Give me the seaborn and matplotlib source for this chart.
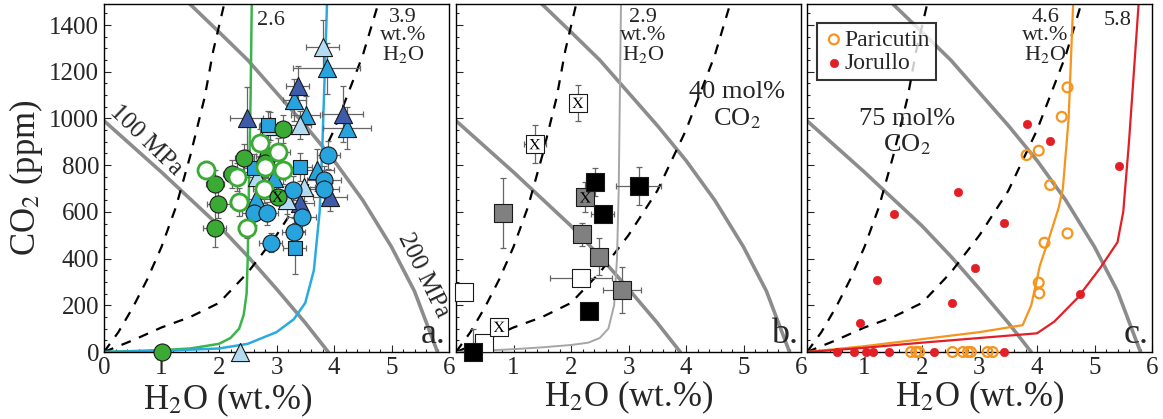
import numpy as np
import matplotlib.pyplot as plt
import seaborn as sns

sns.set_style("ticks")
plt.rcParams['font.family'] = 'serif'
plt.rcParams['font.serif'] = ['Liberation Serif', 'Tinos', 'Times New Roman',
                              'DejaVu Serif']
plt.rcParams['mathtext.fontset'] = 'stix'

# --- model curves (H2O wt.%, CO2 ppm) ---
iso100_x = [0, 0.5, 1, 1.5, 2, 2.5, 3, 3.5, 3.9]
iso100_y = [990, 880, 770, 655, 540, 410, 270, 125, 0]
iso200_x = [1.45, 2, 2.5, 3, 3.5, 4, 4.5, 5, 5.4, 5.8]
iso200_y = [1500, 1370, 1250, 1110, 970, 820, 650, 450, 260, 0]
pleth75_x = [0, 0.25, 0.5, 0.75, 1, 1.25, 1.5, 1.75, 1.9, 2.1]
pleth75_y = [0, 85, 190, 310, 450, 620, 840, 1090, 1290, 1500]
pleth40_x = [0, 0.5, 1, 1.5, 2, 2.5, 3, 3.5, 4, 4.5, 4.78]
pleth40_y = [0, 50, 105, 150, 210, 340, 500, 690, 950, 1270, 1500]

path_green_x = [0, 1, 1.5, 2, 2.2, 2.35, 2.43, 2.48, 2.5, 2.52, 2.55, 2.57]
path_green_y = [0, 8, 15, 35, 60, 100, 160, 250, 400, 700, 1100, 1500]
path_blue_x = [0, 1, 2, 2.5, 3, 3.3, 3.5, 3.65, 3.75, 3.8, 3.88]
path_blue_y = [0, 5, 15, 35, 85, 140, 210, 350, 600, 900, 1500]
path_gray_x = [0, 1, 1.5, 2, 2.3, 2.5, 2.65, 2.75, 2.8, 2.83, 2.87]
path_gray_y = [0, 12, 20, 30, 40, 60, 100, 200, 400, 700, 1500]
path_orange_x = [0, 1, 2, 3, 3.75, 3.9, 4.05, 4.2, 4.38, 4.45, 4.55, 4.63]
path_orange_y = [0, 25, 55, 85, 115, 200, 370, 480, 620, 700, 1000, 1500]
path_red_x = [0, 1, 2, 3, 4, 4.3, 4.7, 5.1, 5.4, 5.5, 5.6, 5.77]
path_red_y = [0, 18, 40, 60, 80, 130, 230, 360, 470, 600, 900, 1500]

# --- panel a data ---
a_green_x = [3.11, 2.43, 2.85, 2.80, 2.22, 1.93, 1.99, 1.93, 1.00]
a_green_y = [953, 832, 841, 810, 761, 719, 634, 530, 0]
a_green_xe = [0.15, 0.15, 0.2, 0.15, 0.15, 0.15, 0.2, 0.2, 0]
a_green_ye = [60, 60, 60, 60, 60, 60, 60, 80, 0]
a_greenx_x = [3.02]
a_greenx_y = [665]
a_open_x = [2.72, 3.03, 1.77, 3.11, 2.31, 2.80, 2.79, 2.34, 2.48]
a_open_y = [893, 858, 779, 779, 751, 793, 700, 644, 529]
a_open_xe = [0.15, 0.2, 0.1, 0.2, 0.15, 0.2, 0.2, 0.15, 0.15]
a_open_ye = [60, 60, 40, 60, 60, 60, 60, 60, 40]
a_circ_x = [3.90, 3.83, 3.83, 3.28, 2.60, 2.83, 3.44, 3.30, 2.90]
a_circ_y = [843, 736, 696, 693, 594, 594, 577, 512, 468]
a_circ_xe = [0.2, 0.3, 0.25, 0.25, 0.2, 0.2, 0.25, 0.2, 0.2]
a_circ_ye = [60, 60, 60, 60, 50, 50, 60, 60, 40]
a_sq_x = [2.86, 3.41, 2.61, 3.32]
a_sq_y = [972, 793, 786, 444]
a_sq_xe = [0.15, 0.2, 0.2, 0.2]
a_sq_ye = [60, 60, 60, 110]
a_tri_x = [3.87, 3.31, 3.51, 4.22, 3.70, 2.64, 2.95]
a_tri_y = [1214, 1079, 1015, 958, 779, 653, 745]
a_tri_xe = [0.58, 0.2, 0.25, 0.42, 0.3, 0.25, 0.2]
a_tri_ye = [110, 90, 80, 90, 90, 60, 60]
a_dtri_x = [2.48, 3.37, 4.15, 3.41, 3.93]
a_dtri_y = [1000, 1139, 1017, 639, 665]
a_dtri_xe = [0.29, 0.2, 0.36, 0.25, 0.3]
a_dtri_ye = [135, 85, 120, 60, 60]
a_ltri_x = [3.80, 2.89, 3.40, 2.66, 3.47, 3.18, 2.37]
a_ltri_y = [1307, 967, 972, 751, 708, 651, 0]
a_ltri_xe = [0.28, 0.2, 0.2, 0.2, 0.2, 0.2, 0]
a_ltri_ye = [115, 60, 60, 60, 60, 60, 0]

# --- panel b data ---
b_whx_x = [2.12, 1.37, 0.75]
b_whx_y = [1067, 890, 108]
b_whx_xe = [0.13, 0.19, 0]
b_whx_ye = [78, 82, 0]
b_grx_x = [2.25]
b_grx_y = [662]
b_grx_xe = [0.08]
b_grx_ye = [64]
b_blk_x = [2.41, 3.18, 2.55, 2.32, 0.29]
b_blk_y = [729, 712, 589, 176, 0]
b_blk_xe = [0.15, 0.39, 0.2, 0.12, 0]
b_blk_ye = [60, 82, 25, 20, 100]
b_gry_x = [0.81, 2.19, 2.48, 2.88]
b_gry_y = [594, 504, 408, 265]
b_gry_xe = [0, 0.12, 0.1, 0.33]
b_gry_ye = [150, 50, 80, 100]
b_wht_x = [2.17, 0.14, 0.49]
b_wht_y = [315, 258, 40]
b_wht_xe = [0.54, 0, 0]
b_wht_ye = [20, 0, 0]

# --- panel c data ---
par_x = [4.53, 4.43, 4.03, 3.82, 4.23, 4.53, 4.13, 4.03, 4.04,
         1.81, 1.90, 1.95, 2.53, 2.71, 2.80, 2.85, 3.14, 3.23]
par_y = [1133, 1007, 862, 843, 715, 508, 468, 297, 251,
         0, 0, 0, 0, 0, 0, 0, 0, 0]
jor_x = [3.82, 4.23, 5.43, 2.63, 1.52, 3.43, 2.93, 1.22, 2.52, 4.74, 0.92,
         0.53, 0.82, 1.03, 1.14, 1.43, 2.21, 3.43]
jor_y = [976, 905, 798, 686, 591, 554, 358, 308, 211, 247, 123,
         0, 0, 0, 0, 0, 0, 0]

GRAY = '#8c8c8c'
W, H = 1163, 419
fig = plt.figure(figsize=(W / 100, H / 100), dpi=100)
lefts = [104, 456, 807]
axes = [fig.add_axes([l / W, 67 / H, 345 / W, 348 / H]) for l in lefts]


def base(ax):
    sns.lineplot(x=iso100_x, y=iso100_y, ax=ax, sort=False, estimator=None,
                 color=GRAY, lw=2.6, zorder=1)
    sns.lineplot(x=iso200_x, y=iso200_y, ax=ax, sort=False, estimator=None,
                 color=GRAY, lw=2.6, zorder=1)
    for px, py in [(pleth75_x, pleth75_y), (pleth40_x, pleth40_y)]:
        sns.lineplot(x=px, y=py, ax=ax, sort=False, estimator=None,
                     color='black', lw=1.6, zorder=1)
        ax.lines[-1].set_dashes((4.5, 4))


def pts(ax, x, y, xe, ye, marker, s, fc, ec='#1a1a1a', lw=0.8, z=4):
    ax.errorbar(x, y, xerr=xe, yerr=ye, fmt='none', ecolor='#666666',
                elinewidth=0.9, capsize=2.5, capthick=0.9, zorder=2)
    sns.scatterplot(x=x, y=y, ax=ax, marker=marker, s=s, color=fc,
                    edgecolor=ec, linewidth=lw, zorder=z, clip_on=False,
                    legend=False)


def xmark(ax, x, y, s=70):
    sns.scatterplot(x=x, y=y, ax=ax, marker='$\\mathrm{X}$', s=s,
                    color='black', edgecolor='none', linewidth=0, zorder=6,
                    clip_on=False, legend=False)


for ax in axes:
    base(ax)

# panel a
ax = axes[0]
sns.lineplot(x=path_green_x, y=path_green_y, ax=ax, sort=False,
             estimator=None, color='#3cb44b', lw=1.8, zorder=1)
sns.lineplot(x=path_blue_x, y=path_blue_y, ax=ax, sort=False,
             estimator=None, color='#29abe2', lw=1.8, zorder=1)
pts(ax, a_tri_x, a_tri_y, a_tri_xe, a_tri_ye, '^', 170, '#27a3dd')
pts(ax, a_dtri_x, a_dtri_y, a_dtri_xe, a_dtri_ye, '^', 170, '#3d5ba9')
pts(ax, a_ltri_x, a_ltri_y, a_ltri_xe, a_ltri_ye, '^', 170, '#b3dbf2')
pts(ax, a_sq_x, a_sq_y, a_sq_xe, a_sq_ye, 's', 110, '#27a3dd')
pts(ax, a_circ_x, a_circ_y, a_circ_xe, a_circ_ye, 'o', 150, '#27a3dd', z=5)
pts(ax, a_green_x, a_green_y, a_green_xe, a_green_ye, 'o', 150, '#3aaa35',
    z=5)
pts(ax, a_open_x, a_open_y, a_open_xe, a_open_ye, 'o', 150, 'white',
    ec='#3aaa35', lw=2.0, z=5)
pts(ax, a_greenx_x, a_greenx_y, [0], [0], 'o', 150, '#3aaa35', z=5)
xmark(ax, a_greenx_x, a_greenx_y, s=60)
ax.text(2.66, 1420, '2.6', fontsize=16, ha='left', va='center')
ax.text(5.2, 1475, '3.9\nwt.%\nH$_2$O', fontsize=16, ha='center',
        va='top', linespacing=0.95)
ax.text(0.72, 905, '100 MPa', fontsize=18, rotation=-44, ha='center',
        va='center')
ax.text(5.55, 330, '200 MPa', fontsize=18, rotation=-64, ha='center',
        va='center')

# panel b
ax = axes[1]
sns.lineplot(x=path_gray_x, y=path_gray_y, ax=ax, sort=False,
             estimator=None, color='#a6a6a6', lw=1.4, zorder=1)
pts(ax, b_wht_x, b_wht_y, b_wht_xe, b_wht_ye, 's', 150, 'white', lw=0.8)
pts(ax, b_whx_x, b_whx_y, b_whx_xe, b_whx_ye, 's', 150, 'white', lw=0.8)
pts(ax, b_gry_x, b_gry_y, b_gry_xe, b_gry_ye, 's', 170, '#808080')
pts(ax, b_grx_x, b_grx_y, b_grx_xe, b_grx_ye, 's', 170, '#808080')
pts(ax, b_blk_x, b_blk_y, b_blk_xe, b_blk_ye, 's', 170, '#000000')
xmark(ax, b_whx_x, b_whx_y, s=60)
xmark(ax, b_grx_x, b_grx_y, s=60)
ax.text(3.25, 1475, '2.9\nwt.%\nH$_2$O', fontsize=16, ha='center',
        va='top', linespacing=0.95)
ax.text(4.89, 1160, '40 mol%\nCO$_2$', fontsize=19, ha='center', va='top',
        linespacing=1.15)

# panel c
ax = axes[2]
sns.lineplot(x=path_orange_x, y=path_orange_y, ax=ax, sort=False,
             estimator=None, color='#f7941d', lw=1.6, zorder=1)
sns.lineplot(x=path_red_x, y=path_red_y, ax=ax, sort=False,
             estimator=None, color='#e21f26', lw=1.6, zorder=1)
sns.scatterplot(x=par_x, y=par_y, ax=ax, marker='o', s=50, color='none',
                edgecolor='#f7941d', linewidth=1.6, zorder=5, clip_on=False,
                label='Paricutin')
sns.scatterplot(x=jor_x, y=jor_y, ax=ax, marker='o', s=36, color='#e21f26',
                edgecolor='#e21f26', linewidth=0.5, zorder=5, clip_on=False,
                label='Jorullo')
leg = ax.legend(loc='upper left', bbox_to_anchor=(0.03, 0.945), fontsize=17,
                frameon=True, fancybox=False, handletextpad=0.0,
                borderpad=0.25, labelspacing=0.1, handlelength=0.9,
                borderaxespad=0)
leg.get_frame().set_edgecolor('black')
leg.get_frame().set_linewidth(1.5)
ax.text(4.15, 1475, '4.6\nwt.%\nH$_2$O', fontsize=16, ha='center',
        va='top', linespacing=0.95)
ax.text(5.4, 1420, '5.8', fontsize=16, ha='center', va='center')
ax.text(1.74, 1045, '75 mol%\nCO$_2$', fontsize=19, ha='center', va='top',
        linespacing=1.15)

for ax, tag in zip(axes, ['a.', 'b.', 'c.']):
    ax.set_xlim(0, 6)
    ax.set_ylim(0, 1490)
    ax.text(5.72, 75, tag, fontsize=26, ha='center', va='center')
    ax.set_xticks(range(7))
    ax.set_xticks(np.arange(0, 6.01, 0.2), minor=True)
    ax.set_yticks(range(0, 1401, 200))
    ax.set_yticks(range(0, 1490, 50), minor=True)
    ax.tick_params(which='both', direction='in', top=False, right=False,
                   labelsize=18, width=0.8)
    ax.tick_params(which='major', length=5)
    ax.tick_params(which='minor', length=2.5)
    for sp in ax.spines.values():
        sp.set_visible(True)
        sp.set_linewidth(1.0)
        sp.set_color('black')
    ax.set_xlabel('H$_2$O (wt.%)', fontsize=25, labelpad=0)
    ax.set_ylabel('')

axes[0].xaxis.set_label_coords(0.357, -0.085)
axes[0].set_ylabel('CO$_2$ (ppm)', fontsize=25, labelpad=3)
for ax in axes[1:]:
    ax.set_xticklabels(['', '1', '2', '3', '4', '5', '6'])
    ax.set_yticklabels([])

fig.savefig('out.png', dpi=100)
